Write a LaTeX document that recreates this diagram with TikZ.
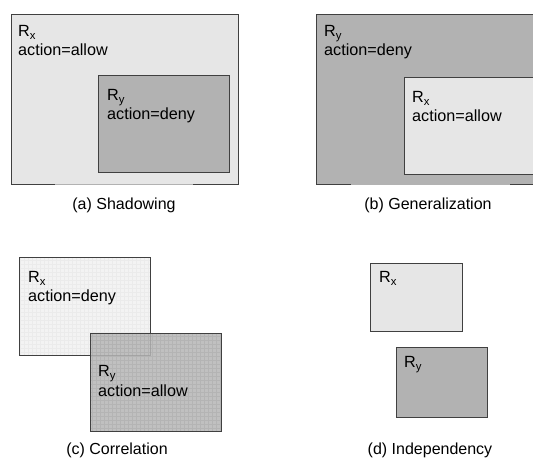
\documentclass[tikz,border=0pt]{standalone}
\usepackage{fontspec}
\setmainfont{Liberation Sans}
\definecolor{lightg}{HTML}{E6E6E6}
\definecolor{darkg}{HTML}{B2B2B2}
\definecolor{edgeg}{HTML}{404040}
\definecolor{paleg}{HTML}{F3F3F3}
\begin{document}
\begin{tikzpicture}[x=1pt,y=-1pt,
  rbox/.style={draw=edgeg,line width=0.9pt},
  lightbox/.style={rbox,fill=lightg},
  darkbox/.style={rbox,fill=darkg},
  lbl/.style={anchor=base west,inner sep=0pt,font=\fontsize{16.2}{18}\selectfont},
  captxt/.style={anchor=base,inner sep=0pt,font=\fontsize{16}{18}\selectfont},
  gapline/.style={draw=gray!60,line width=0.9pt}]
\useasboundingbox (0,0) rectangle (533,462);
\fill[white] (0,0) rectangle (533,462);
% (a) Shadowing
\path[lightbox] (11,14) rectangle (238,184);
\draw[gapline] (55,184) -- (193,184);
\node[lbl] (ax) at (18,37) {R\textsubscript{x}};
\node[lbl] (axa) at (18,56) {action=allow};
\path[darkbox] (98,75) rectangle (229,172);
\node[lbl] (ay) at (107,101) {R\textsubscript{y}};
\node[lbl] (aya) at (107,120) {action=deny};
\node[captxt] (capa) at (124,210) {(a) Shadowing};
% (b) Generalization
\begin{scope}
\clip (0,0) rectangle (533,462);
\path[darkbox] (316,14) rectangle (540,184);
\draw[gapline] (351,184) -- (510,184);
\path[lightbox] (404,77) rectangle (540,174);
\end{scope}
\node[lbl] (by) at (324,37) {R\textsubscript{y}};
\node[lbl] (bya) at (324,56) {action=deny};
\node[lbl] (bx) at (412,103) {R\textsubscript{x}};
\node[lbl] (bxa) at (412,122) {action=allow};
\node[captxt] (capb) at (428,210) {(b) Generalization};
% (c) Correlation
\fill[paleg] (19,257) rectangle (150,355);
\begin{scope}
\clip (19,257) rectangle (150,355);
\draw[black!8,line width=0.4pt,step=4pt] (19,257) grid (150,355);
\end{scope}
\draw[rbox] (19,257) rectangle (150,355);
\fill[darkg!95!white,fill opacity=0.85] (90,333) rectangle (221,431);
\begin{scope}
\clip (90,333) rectangle (221,431);
\draw[black!38,line width=0.4pt,step=4pt,opacity=0.35] (90,333) grid (221,431);
\end{scope}
\draw[rbox] (90,333) rectangle (221,431);
\node[lbl] (cx) at (28,283) {R\textsubscript{x}};
\node[lbl] (cxa) at (28,302) {action=deny};
\node[lbl] (cy) at (98,377) {R\textsubscript{y}};
\node[lbl] (cya) at (98,396) {action=allow};
\node[captxt] (capc) at (117,454) {(c) Correlation};
% (d) Independency
\path[lightbox] (370,263) rectangle (462,331);
\node[lbl] (dx) at (379,283) {R\textsubscript{x}};
\path[darkbox] (396,347) rectangle (487,417);
\node[lbl] (dy) at (404,368) {R\textsubscript{y}};
\node[captxt] (capd) at (430,454) {(d) Independency};
\end{tikzpicture}
\end{document}
